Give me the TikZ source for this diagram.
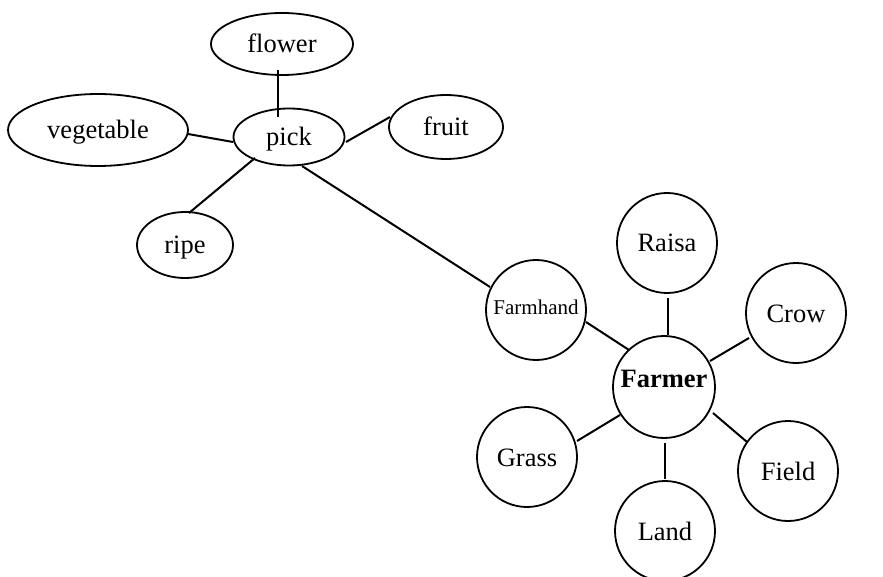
\documentclass[tikz,border=0pt]{standalone}
\usepackage{fontspec}
\setmainfont{Liberation Serif}
\usetikzlibrary{shapes.geometric,calc}
\tikzset{
  base/.style={draw=black, line width=1.8pt, inner sep=0pt, font=\fontsize{26.5pt}{28pt}\selectfont, text height=18pt, text depth=0pt},
  oval/.style={base, ellipse},
  ring/.style={base, circle, minimum size=100pt},
  link/.style={line width=2pt}
}
\begin{document}
\begin{tikzpicture}[x=1pt,y=-1pt]
\useasboundingbox (0,0) rectangle (883,577);
% pick cluster
\node[oval, minimum width=142pt, minimum height=62pt] (flower) at (282,44) {flower};
\node[oval, minimum width=180pt, minimum height=72pt] (vegetable) at (98,130) {vegetable};
\node[oval, minimum width=111pt, minimum height=57pt] (pick) at (289,137) {pick};
\node[oval, minimum width=114pt, minimum height=64pt] (fruit) at (446,127) {fruit};
\node[oval, minimum width=96pt, minimum height=66pt] (ripe) at (185,245) {ripe};
% farmer cluster
\node[ring, font=\fontsize{21pt}{23pt}\selectfont, text height=8pt] (farmhand) at (536,310) {Farmhand};
\node[ring] (raisa) at (667,243) {Raisa};
\node[ring] (crow) at (796,313) {Crow};
\node[ring, minimum size=102pt, font=\fontsize{26.5pt}{28pt}\selectfont\bfseries, text height=0pt] (farmer) at (664,387) {Farmer};
\node[ring] (grass) at (527,457) {Grass};
\node[ring] (field) at (788,471) {Field};
\node[ring] (land) at (665,531) {Land};
% connectors
\draw[link] ($(flower.center)+(-4,26)$) -- ($(pick.center)+(-11,-20)$);
\draw[link] ($(vegetable.center)+(90,4)$) -- ($(pick.center)+(-56,5)$);
\draw[link] ($(pick.center)+(57,5)$) -- ($(fruit.center)+(-56,-10)$);
\draw[link] ($(pick.center)+(-34,21)$) -- ($(ripe.center)+(4,-32)$);
\draw[link] ($(pick.center)+(13,29)$) -- ($(farmhand.center)+(-46,-23)$);
\draw[link] ($(farmhand.center)+(50,12)$) -- ($(farmer.center)+(-35,-37)$);
\draw[link] ($(raisa.center)+(1,55)$) -- ($(farmer.center)+(4,-52)$);
\draw[link] ($(crow.center)+(-47,25)$) -- ($(farmer.center)+(46,-26)$);
\draw[link] ($(grass.center)+(50,-16)$) -- ($(farmer.center)+(-44,28)$);
\draw[link] ($(farmer.center)+(1,56)$) -- ($(land.center)+(0,-52)$);
\draw[link] ($(farmer.center)+(49,26)$) -- ($(field.center)+(-41,-29)$);
\end{tikzpicture}
\end{document}
